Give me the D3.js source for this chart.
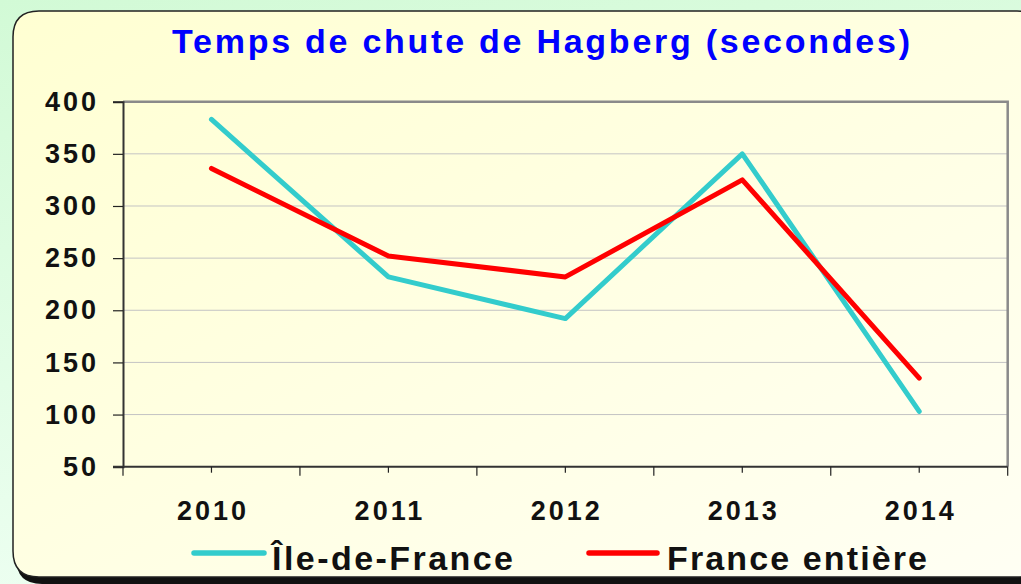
<!DOCTYPE html>
<html>
<head>
<meta charset="utf-8">
<script src="https://cdn.jsdelivr.net/npm/d3@7"></script>
<style>
  html, body { margin: 0; padding: 0; overflow: hidden; }
  body { width: 1021px; height: 584px; }
  text { font-family: "Liberation Sans", Arial, sans-serif; font-weight: bold; }
</style>
</head>
<body>
<div id="chart-area"></div>
<script>
// Chart data
const years = ["2010", "2011", "2012", "2013", "2014"];
const ileDeFrance = [383, 232, 192, 350, 103];
const franceEntiere = [336, 252, 232, 325, 135];
const yTicks = [50, 100, 150, 200, 250, 300, 350, 400];
const seriesNames = ["Île-de-France", "France entière"];
const seriesColors = ["#33cccc", "#ff0000"];
const titleText = "Temps de chute de Hagberg (secondes)";

const W = 1021, H = 584;
const margin = { top: 101.7, right: 13.3, bottom: 117.3, left: 123 };
const width = W - margin.left - margin.right;
const height = H - margin.top - margin.bottom;

const svg = d3.select("#chart-area")
    .append("svg")
    .attr("width", W)
    .attr("height", H);

const defs = svg.append("defs");
const bgGrad = defs.append("linearGradient").attr("id", "bg-grad")
    .attr("x1", 0).attr("y1", 0).attr("x2", 0.3).attr("y2", 1);
bgGrad.append("stop").attr("offset", 0).attr("stop-color", "#d2fad6");
bgGrad.append("stop").attr("offset", 1).attr("stop-color", "#eefff2");

const cardGrad = defs.append("linearGradient").attr("id", "card-grad")
    .attr("x1", 0).attr("y1", 0).attr("x2", 1).attr("y2", 1);
cardGrad.append("stop").attr("offset", 0).attr("stop-color", "#ffffd2");
cardGrad.append("stop").attr("offset", 0.6).attr("stop-color", "#ffffe6");
cardGrad.append("stop").attr("offset", 1).attr("stop-color", "#fffff4");

// Outer background
svg.append("rect")
    .attr("width", W).attr("height", H)
    .attr("fill", "url(#bg-grad)");

// Card shape with rounded corners
function cardPath(x, y, w, h, r) {
    const p = d3.path();
    p.moveTo(x + r, y);
    p.lineTo(x + w - r, y);
    p.quadraticCurveTo(x + w, y, x + w, y + r);
    p.lineTo(x + w, y + h - r);
    p.quadraticCurveTo(x + w, y + h, x + w - r, y + h);
    p.lineTo(x + r, y + h);
    p.quadraticCurveTo(x, y + h, x, y + h - r);
    p.lineTo(x, y + r);
    p.quadraticCurveTo(x, y, x + r, y);
    p.closePath();
    return p.toString();
}

// shadow
svg.append("path")
    .attr("d", cardPath(16, 15, 1030, 569, 26))
    .attr("fill", "#111");

svg.append("path")
    .attr("d", cardPath(13, 11, 1030, 566, 26))
    .attr("fill", "url(#card-grad)")
    .attr("stroke", "#222")
    .attr("stroke-width", 1.5);

// Title
svg.append("text")
    .attr("x", 541)
    .attr("y", 53)
    .attr("text-anchor", "middle")
    .attr("font-size", 34)
    .attr("fill", "#0000ff")
    .attr("textLength", 738)
    .attr("lengthAdjust", "spacing")
    .text(titleText);

const g = svg.append("g")
    .attr("transform", "translate(" + margin.left + "," + margin.top + ")");

// Scales
const xScale = d3.scaleBand().domain(years).range([0, width]).padding(0);
const yScale = d3.scaleLinear().domain([50, 400]).range([height, 0]);
const xMid = d => xScale(d) + xScale.bandwidth() / 2;

// Gridlines
g.selectAll(".grid")
    .data(yTicks.filter(v => v > 50 && v < 400))
    .enter().append("line")
    .attr("class", "grid")
    .attr("x1", 0).attr("x2", width)
    .attr("y1", d => yScale(d)).attr("y2", d => yScale(d))
    .attr("stroke", "#c4c4c4")
    .attr("stroke-width", 1);

// Top and right border
g.append("path")
    .attr("d", "M0," + yScale(400) + "H" + width + "V" + height)
    .attr("fill", "none")
    .attr("stroke", "#8a8a8a")
    .attr("stroke-width", 2.5);

// Y axis
const yAxis = d3.axisLeft(yScale).tickValues(yTicks).tickSize(10).tickPadding(14);
const yAxisG = g.append("g").attr("class", "y-axis").call(yAxis);
yAxisG.select(".domain").attr("stroke", "#333").attr("stroke-width", 2);
yAxisG.selectAll(".tick line").attr("stroke", "#222").attr("stroke-width", 1.2);
yAxisG.selectAll(".tick text")
    .attr("font-size", 27)
    .attr("letter-spacing", 3)
    .attr("fill", "#111")
    .attr("font-family", "Liberation Sans, Arial, sans-serif")
    .attr("font-weight", "bold");

// X axis line
g.append("line")
    .attr("x1", -10).attr("x2", width)
    .attr("y1", height).attr("y2", height)
    .attr("stroke", "#333").attr("stroke-width", 2);

// X ticks: long at band edges, short at centres
const edges = years.map(d => xScale(d)).concat([xScale(years[years.length - 1]) + xScale.bandwidth()]);
g.selectAll(".xtick-edge")
    .data(edges)
    .enter().append("line")
    .attr("x1", d => d).attr("x2", d => d)
    .attr("y1", height).attr("y2", height + 9)
    .attr("stroke", "#222").attr("stroke-width", 1.2);
g.selectAll(".xtick-mid")
    .data(years)
    .enter().append("line")
    .attr("x1", d => xMid(d)).attr("x2", d => xMid(d))
    .attr("y1", height).attr("y2", height + 6)
    .attr("stroke", "#222").attr("stroke-width", 1.2);

g.selectAll(".x-label")
    .data(years)
    .enter().append("text")
    .attr("class", "x-label")
    .attr("x", d => xMid(d) + 1.5)
    .attr("y", height + 53)
    .attr("text-anchor", "middle")
    .attr("font-size", 27)
    .attr("letter-spacing", 3)
    .attr("fill", "#111")
    .text(d => d);

// Lines
const line = d3.line()
    .x((d, i) => xMid(years[i]))
    .y(d => yScale(d));

[ileDeFrance, franceEntiere].forEach((series, i) => {
    g.append("path")
        .datum(series)
        .attr("d", line)
        .attr("fill", "none")
        .attr("stroke", seriesColors[i])
        .attr("stroke-width", 5)
        .attr("stroke-linecap", "round")
        .attr("stroke-linejoin", "round");
});

// Legend
const legendItems = [
    { x1: 194, x2: 264, tx: 272, tw: 241 },
    { x1: 589, x2: 657, tx: 667, tw: 260 }
];
const legend = svg.append("g").attr("class", "legend");
legendItems.forEach((item, i) => {
    legend.append("line")
        .attr("x1", item.x1).attr("x2", item.x2)
        .attr("y1", 553).attr("y2", 553)
        .attr("stroke", seriesColors[i])
        .attr("stroke-width", 5.5)
        .attr("stroke-linecap", "round");
    legend.append("text")
        .attr("x", item.tx)
        .attr("y", 570)
        .attr("font-size", 34)
        .attr("fill", "#111")
        .attr("textLength", item.tw)
        .attr("lengthAdjust", "spacing")
        .text(seriesNames[i]);
});
</script>
</body>
</html>
